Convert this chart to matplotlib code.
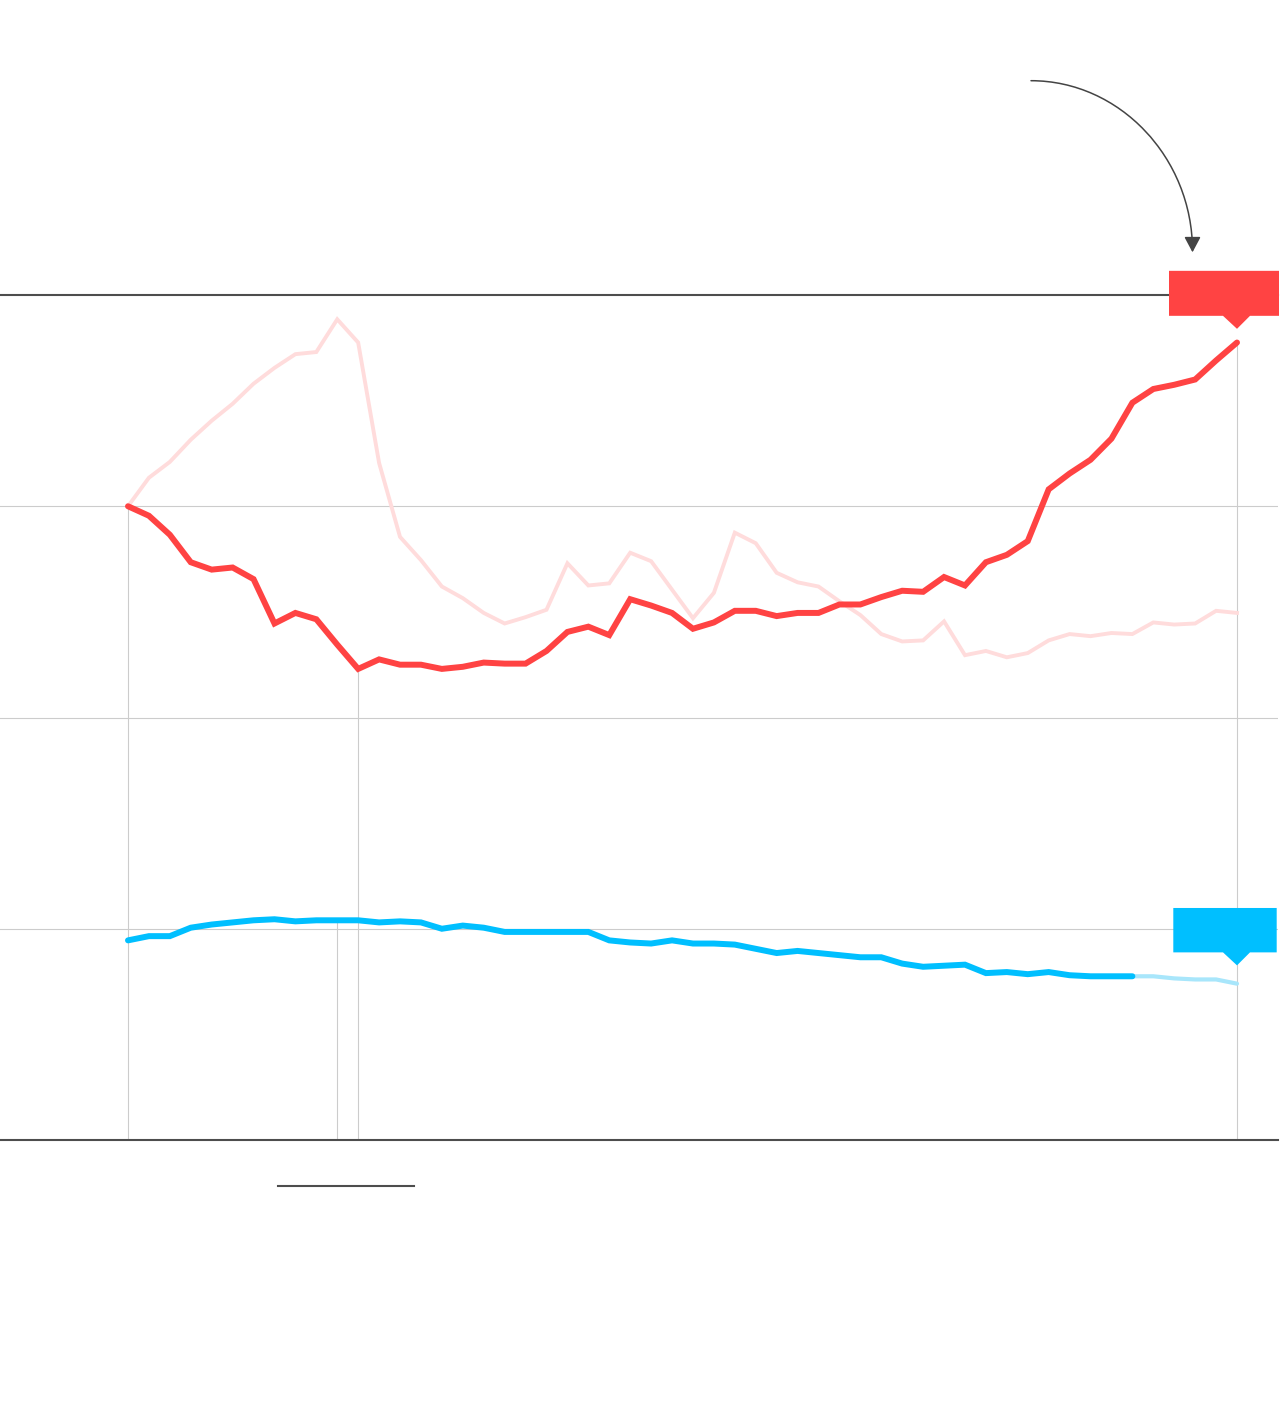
import numpy as np
import matplotlib
matplotlib.use("Agg")
import matplotlib.pyplot as plt
from matplotlib.patches import Polygon, FancyArrowPatch
from matplotlib.path import Path
from matplotlib.lines import Line2D
import matplotlib.transforms as mtransforms

# Index values (start = 100)
red_idx = [100.0, 99.1, 97.3, 94.7, 94.0, 94.2, 93.1, 88.9, 89.9, 89.3,
           86.9, 84.6, 85.5, 85.0, 85.0, 84.6, 84.8, 85.2, 85.1, 85.1,
           86.3, 88.1, 88.6, 87.8, 91.2, 90.6, 89.9, 88.4, 89.0, 90.1,
           90.1, 89.6, 89.9, 89.9, 90.7, 90.7, 91.4, 92.0, 91.9, 93.3,
           92.5, 94.7, 95.4, 96.7, 101.6, 103.1, 104.4, 106.4, 109.8, 111.1,
           111.5, 112.0, 113.8, 115.5]
pale_idx = [100.0, 102.7, 104.2, 106.3, 108.1, 109.7, 111.6, 113.1, 114.4, 114.6,
            117.7, 115.5, 104.1, 97.1, 94.9, 92.4, 91.3, 89.9, 88.9, 89.5,
            90.2, 94.6, 92.5, 92.7, 95.6, 94.8, 92.1, 89.4, 91.8, 97.5,
            96.5, 93.7, 92.8, 92.4, 91.0, 89.7, 87.9, 87.2, 87.3, 89.1,
            85.9, 86.3, 85.7, 86.1, 87.3, 87.9, 87.7, 88.0, 87.9, 89.0,
            88.8, 88.9, 90.1, 89.9]
blue_idx = [58.9, 59.3, 59.3, 60.1, 60.4, 60.6, 60.8, 60.9, 60.7, 60.8,
            60.8, 60.8, 60.6, 60.7, 60.6, 60.0, 60.3, 60.1, 59.7, 59.7,
            59.7, 59.7, 59.7, 58.9, 58.7, 58.6, 58.9, 58.6, 58.6, 58.5,
            58.1, 57.7, 57.9, 57.7, 57.5, 57.3, 57.3, 56.7, 56.4, 56.5,
            56.6, 55.8, 55.9, 55.7, 55.9, 55.6, 55.5, 55.5, 55.5, 55.5,
            55.3, 55.2, 55.2, 54.8]
blue_solid_end = 48          # last point drawn in full colour
grid_levels = [60, 80, 100]
frame_levels = [40, 120]
marked_points = [0, 10, 11, 53]

RED = "#ff4343"
PALE = "#ffdcdc"
BLUE = "#00bfff"
LIGHT_BLUE = "#a8e6fb"

W, H = 1280, 1426
fig = plt.figure(figsize=(W / 100, H / 100), dpi=100)
ax = fig.add_axes([0, (H - 1140) / H, 1278 / W, (1140 - 295) / H])

x = np.arange(len(red_idx))
step = 1109 / 53
ax.set_xlim(-128 / step, (1278 - 128) / step)
ax.set_ylim(frame_levels[0], frame_levels[1])
ax.axis("off")

for g in grid_levels:
    ax.axhline(g, color="#cccccc", lw=0.8, zorder=1)
for g in frame_levels:
    ax.axhline(g, color="#4d4d4d", lw=1.5, zorder=5, clip_on=False)

# vertical markers from the line down to the baseline
tops = {0: red_idx[0], 10: blue_idx[10], 11: red_idx[11], 53: red_idx[53]}
for i in marked_points:
    ax.vlines(i, frame_levels[0], tops[i], color="#cccccc", lw=0.8, zorder=1)

ax.plot(x, pale_idx, color=PALE, lw=2.8, zorder=2, solid_joinstyle="miter")
ax.plot(x, red_idx, color=RED, lw=4.3, zorder=4, solid_capstyle="round",
        solid_joinstyle="miter")
ax.plot(x[blue_solid_end:], blue_idx[blue_solid_end:], color=LIGHT_BLUE, lw=3.0,
        zorder=3, solid_capstyle="round")
ax.plot(x[:blue_solid_end + 1], blue_idx[:blue_solid_end + 1], color=BLUE, lw=4.3,
        zorder=4, solid_capstyle="round", solid_joinstyle="miter")


def end_label(xv, yv, color, lift, box_h, left, right):
    trans = mtransforms.ScaledTranslation(xv, yv, ax.transData)
    base = lift + 13
    verts = [(left, base), (-14, base), (0, lift), (13, base), (right, base),
             (right, base + box_h), (left, base + box_h)]
    ax.add_patch(Polygon(verts, closed=True, facecolor=color, edgecolor="none",
                         transform=trans, zorder=6, clip_on=False))


end_label(x[-1], red_idx[-1], RED, 13.7, 45, -68, 42)
end_label(x[-1], blue_idx[-1], BLUE, 18.3, 44.4, -63.7, 39.7)

# curved pointer arrow (figure pixels, y measured from the top)
p0 = (1031, 80.7)
p3 = (1192.5, 252.3)
k = 0.55
c1 = (p0[0] + k * (p3[0] - p0[0]), p0[1])
c2 = (p3[0], p3[1] - k * (p3[1] - p0[1]))
pts = [(px / W, 1 - py / H) for px, py in [p0, c1, c2, p3]]
path = Path(pts, [Path.MOVETO, Path.CURVE4, Path.CURVE4, Path.CURVE4])
arrow = FancyArrowPatch(path=path, arrowstyle="-|>,head_length=0.47,head_width=0.25",
                        mutation_scale=20, color="#444444", lw=1.1,
                        transform=fig.transFigure)
fig.add_artist(arrow)

# short rule under the chart
fig.add_artist(Line2D([278 / W, 414 / W], [1 - 1186 / H, 1 - 1186 / H],
                      color="#4d4d4d", lw=1.5, transform=fig.transFigure))

fig.savefig("out.png", dpi=100, facecolor="white")
